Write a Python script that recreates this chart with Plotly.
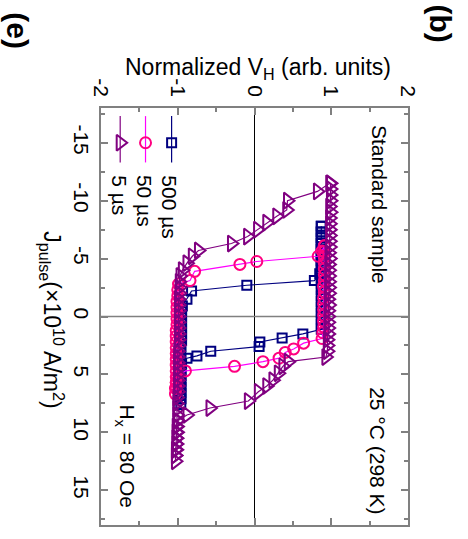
import plotly.graph_objects as go

# Current-induced switching loops: Hall signal vs. pulse current density,
# for three pulse widths.  Axes are laid out with V_H horizontal (top)
# and J_pulse vertical (increasing downward).

# ---- 5 us pulses (sweep order) ----
j_5us = [
    -11.5, -11.0, -10.5, -10.0, -9.5, -9.0, -8.5, -8.0, -7.5, -7.0, -6.5, -6.0,
    -5.5, -5.0, -4.5, -4.0, -3.5, -3.0, -2.5, -2.0, -1.5, -1.0, -0.5, 0.0,
    0.5, 1.0, 1.5, 2.0, 2.5, 3.0,
    3.5, 3.9, 4.3, 4.9, 5.5, 6.0, 6.5, 7.3, 7.9, 8.5,
    9.0, 9.5, 10.0, 10.5, 11.0, 11.5, 12.0, 12.5,
    12.0, 11.5, 11.0, 10.5, 10.0, 9.5, 9.0, 8.5, 8.0, 7.5, 7.0, 6.5, 6.0,
    5.5, 5.0, 4.5, 4.0, 3.5, 3.0, 2.5, 2.0, 1.5, 1.0, 0.5, 0.0, -0.5, -1.0,
    -1.5, -2.0, -2.5, -3.0,
    -3.5, -4.0, -4.6, -5.2, -5.7, -6.3, -6.9, -7.5, -8.1, -8.65, -9.2,
    -10.0, -10.8, -11.5,
]
v_5us = [
    0.99, 0.99, 0.99, 0.99, 0.98, 0.99, 0.98, 0.98, 0.98, 0.98, 0.98, 0.98,
    0.97, 0.98, 0.97, 0.97, 0.97, 0.97, 0.97, 0.97, 0.96, 0.97, 0.96, 0.96,
    0.96, 0.96, 0.96, 0.95, 0.95, 0.95,
    0.93, 0.44, 0.37, 0.31, 0.24, 0.16, 0.05, -0.08, -0.58, -0.88,
    -1.00, -1.01, -1.01, -1.02, -1.02, -1.02, -1.03, -1.03,
    -1.03, -1.03, -1.02, -1.02, -1.02, -1.02, -1.01, -1.01, -1.01, -1.01,
    -1.01, -1.00, -1.00, -1.00, -1.00, -1.00, -1.00, -1.00, -1.00, -0.99,
    -0.99, -0.99, -0.99, -0.99, -0.99, -0.99, -0.99, -0.99, -0.98, -0.98,
    -0.98,
    -0.97, -0.94, -0.88, -0.81, -0.73, -0.30, -0.09, 0.04, 0.16, 0.29, 0.42,
    0.43, 0.82, 0.98,
]

# ---- 50 us pulses (sweep order) ----
j_50us = [
    -6.1, -5.6, -5.1, -4.6, -4.1, -3.6, -3.1, -2.6, -2.1, -1.6, -1.1, -0.6,
    -0.1, 0.4, 0.9, 1.4,
    1.9, 2.3, 2.8, 3.1, 3.6, 3.9, 4.3, 4.7,
    5.2, 5.7, 6.2, 6.7,
    6.2, 5.7, 5.2, 4.7, 4.2, 3.7, 3.2, 2.7, 2.2, 1.7, 1.2, 0.7, 0.2, -0.3,
    -0.8, -1.3, -1.8, -2.3, -2.8,
    -3.1, -3.9, -4.5, -4.75, -5.2, -5.65, -6.1,
]
v_50us = [
    0.91, 0.91, 0.91, 0.91, 0.91, 0.91, 0.91, 0.90, 0.91, 0.90, 0.90, 0.90,
    0.90, 0.90, 0.90, 0.89,
    0.88, 0.64, 0.51, 0.40, 0.32, 0.11, -0.26, -0.90,
    -1.01, -1.02, -1.02, -1.03,
    -1.03, -1.02, -1.02, -1.02, -1.02, -1.02, -1.02, -1.02, -1.02, -1.02,
    -1.02, -1.01, -1.01, -1.01, -1.01, -1.01, -1.00, -1.00, -0.99,
    -0.84, -0.78, -0.19, 0.03, 0.83, 0.88, 0.91,
]

# ---- 500 us pulses (sweep order) ----
j_500us = [
    -7.8, -7.3, -6.8, -6.3, -5.8, -5.3, -4.8, -4.3, -3.8, -3.3, -2.8, -2.3,
    -1.8, -1.3, -0.8, -0.3, 0.2, 0.7,
    1.1, 1.5, 1.85, 2.2, 2.6, 3.0, 3.4, 3.6,
    4.1, 4.6, 5.1, 5.6, 6.1, 6.6, 7.1, 7.6,
    7.1, 6.6, 6.1, 5.6, 5.1, 4.6, 4.1, 3.6, 3.1, 2.6, 2.1, 1.6, 1.1, 0.6,
    0.1, -0.4, -0.9,
    -1.5, -2.2, -2.7, -3.1, -3.7,
    -4.3, -4.8, -5.3, -5.8, -6.3, -6.8, -7.3, -7.8,
]
v_500us = [
    0.87, 0.87, 0.87, 0.87, 0.87, 0.87, 0.87, 0.87, 0.87, 0.87, 0.87, 0.87,
    0.87, 0.87, 0.87, 0.87, 0.87, 0.87,
    0.87, 0.63, 0.36, 0.07, 0.06, -0.57, -0.75, -0.88,
    -0.95, -0.96, -0.96, -0.96, -0.96, -0.96, -0.96, -0.96,
    -0.96, -0.96, -0.96, -0.96, -0.96, -0.96, -0.96, -0.96, -0.96, -0.96,
    -0.95, -0.95, -0.95, -0.95, -0.95, -0.95, -0.94,
    -0.88, -0.82, -0.10, 0.78, 0.85,
    0.87, 0.87, 0.87, 0.87, 0.87, 0.87, 0.87, 0.87,
]

v_ticks = [-2, -1, 0, 1, 2]
j_ticks = [-15, -10, -5, 0, 5, 10, 15]

series = [
    # name, J, V, line colour, marker colour, symbol, size
    ("500 \u00b5s", j_500us, v_500us, "#000080", "#000080", "square-open", 9),
    ("50 \u00b5s", j_50us, v_50us, "#FF00FF", "#FF0080", "circle-open", 11),
    ("5 \u00b5s", j_5us, v_5us, "#800080", "#800080", "triangle-right-open", 14),
]

FONT = "Liberation Sans, Arial, sans-serif"
AXIS_GREY = "#808080"

fig = go.Figure()
for name, j, v, lc, mc, sym, size in series:
    fig.add_trace(go.Scatter(
        x=v, y=j, mode="lines+markers", name=name, showlegend=False,
        line=dict(color=lc, width=1.2),
        marker=dict(symbol=sym, size=size, color=mc,
                    line=dict(color=mc, width=2)),
    ))

# Hand-built legend key (vertical samples, rotated labels)
key_x = {"500 \u00b5s": -1.08, "50 \u00b5s": -1.42, "5 \u00b5s": -1.75}
key_top, key_bottom, key_mark, key_text = -17.3, -13.3, -15.0, -12.4
for name, j, v, lc, mc, sym, size in series:
    kx = key_x[name]
    fig.add_trace(go.Scatter(
        x=[kx, kx], y=[key_top, key_bottom], mode="lines", showlegend=False,
        line=dict(color=lc, width=1.2), hoverinfo="skip"))
    fig.add_trace(go.Scatter(
        x=[kx], y=[key_mark], mode="markers", showlegend=False,
        marker=dict(symbol=sym, size=size, color=mc,
                    line=dict(color=mc, width=2)), hoverinfo="skip"))
    fig.add_annotation(x=kx - 0.02, y=key_text, xref="x", yref="y",
                       text=name, textangle=90, showarrow=False,
                       xanchor="center", yanchor="top",
                       font=dict(family=FONT, size=21, color="black"))

# Zero lines
fig.add_shape(type="line", xref="x", yref="paper", x0=0, x1=0, y0=0, y1=1,
              line=dict(color="black", width=1), layer="below")
fig.add_shape(type="line", xref="paper", yref="y", x0=0, x1=1, y0=0, y1=0,
              line=dict(color=AXIS_GREY, width=1.5), layer="below")

# Text labels inside the frame
txt = dict(family=FONT, size=21, color="black")
fig.add_annotation(x=1.63, y=-16.7, xref="x", yref="y", text="Standard sample",
                   textangle=90, showarrow=False, xanchor="center",
                   yanchor="top", font=txt)
fig.add_annotation(x=1.61, y=17.2, xref="x", yref="y",
                   text="25 \u00b0C (298 K)", textangle=90, showarrow=False,
                   xanchor="center", yanchor="bottom", font=txt)
fig.add_annotation(x=-1.68, y=16.7, xref="x", yref="y",
                   text="H<sub>x</sub> = 80 Oe", textangle=90,
                   showarrow=False, xanchor="center", yanchor="bottom",
                   font=txt)

# Axis titles
fig.add_annotation(x=0.511, y=1.055, xref="paper", yref="paper",
                   text="Normalized V<sub>H</sub> (arb. units)",
                   showarrow=False, xanchor="center", yanchor="bottom",
                   font=dict(family=FONT, size=23, color="black"))
fig.add_annotation(x=-0.158, y=0.492, xref="paper", yref="paper",
                   text="J<sub>pulse</sub>(\u00d710<sup>10</sup> A/m<sup>2</sup>)",
                   textangle=90, showarrow=False, xanchor="center",
                   yanchor="middle",
                   font=dict(family=FONT, size=23, color="black"))

# Panel letters
fig.add_annotation(x=-0.272, y=1.185, xref="paper", yref="paper", text="<b>(e)</b>",
                   textangle=90, showarrow=False, xanchor="center",
                   yanchor="middle", font=dict(family=FONT, size=30, color="black"))
fig.add_annotation(x=1.107, y=1.203, xref="paper", yref="paper", text="<b>(b)</b>",
                   textangle=90, showarrow=False, xanchor="center",
                   yanchor="middle", font=dict(family=FONT, size=30, color="black"))

axis_common = dict(
    showgrid=False, zeroline=False, showline=True, linecolor=AXIS_GREY,
    linewidth=1.5, mirror="ticks", ticks="inside", ticklen=7, tickwidth=1.5,
    tickcolor=AXIS_GREY, tickangle=90,
    tickfont=dict(family=FONT, size=21, color="black"),
)

fig.update_layout(
    width=468, height=539,
    margin=dict(l=101, r=60, t=108, b=12),
    paper_bgcolor="white", plot_bgcolor="white",
    showlegend=False,
    xaxis=dict(range=[-2, 2], side="top", tickvals=v_ticks,
               ticktext=[str(t) for t in v_ticks],
               minor=dict(dtick=0.5, ticks="inside", ticklen=4,
                          tickwidth=1.5, tickcolor=AXIS_GREY),
               ticklabelstandoff=2, **axis_common),
    yaxis=dict(range=[18, -18], tickvals=j_ticks,
               ticktext=[str(t) for t in j_ticks],
               minor=dict(dtick=2.5, ticks="inside", ticklen=4,
                          tickwidth=1.5, tickcolor=AXIS_GREY),
               ticklabelstandoff=0, **axis_common),
)

fig.write_html("out.html")
